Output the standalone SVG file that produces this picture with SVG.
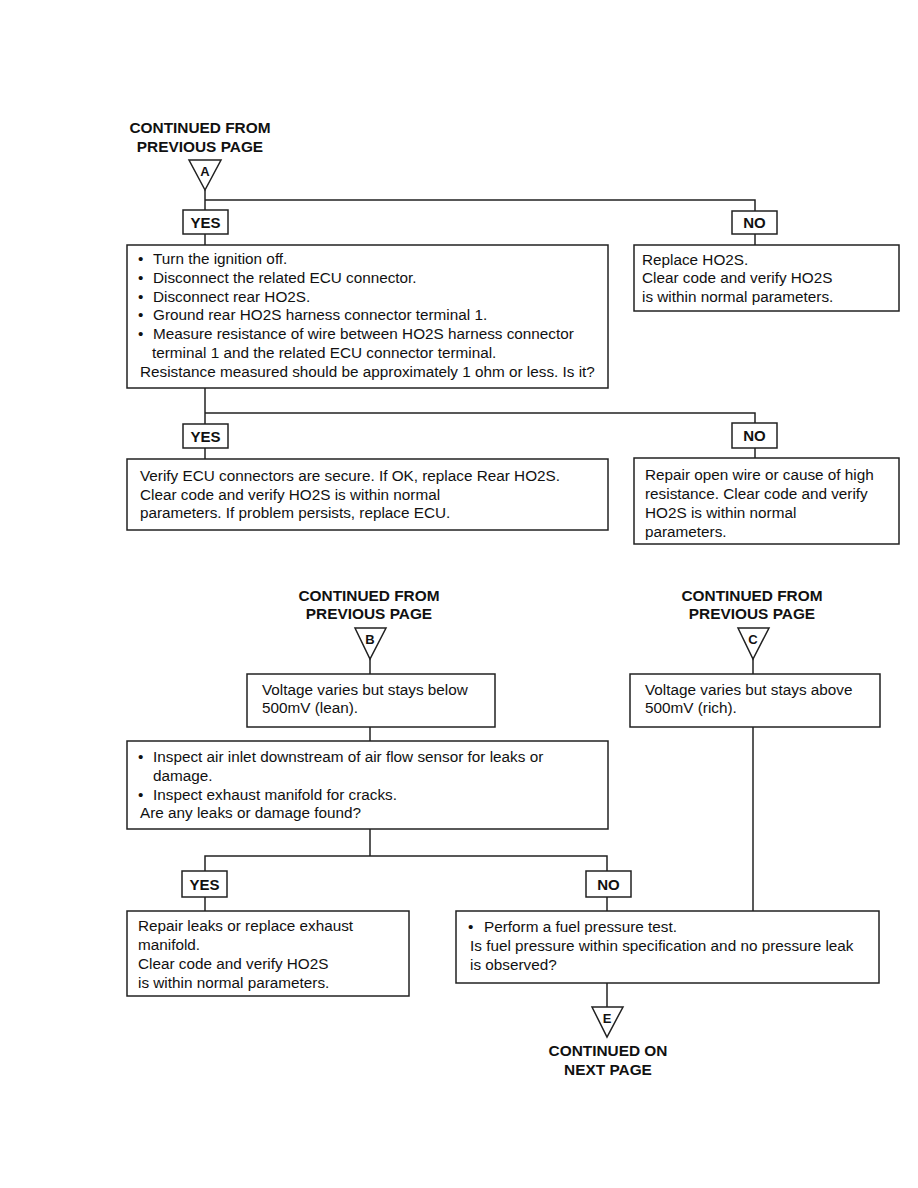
<svg xmlns="http://www.w3.org/2000/svg" width="918" height="1188" viewBox="0 0 918 1188">
<style>
.bg{fill:#ffffff}
.box{fill:#ffffff;stroke:#222;stroke-width:1.5}
.tri{fill:#ffffff;stroke:#222;stroke-width:1.5;stroke-linejoin:miter}
.ln{fill:none;stroke:#222;stroke-width:1.5}
.t{font-family:"Liberation Sans",Arial,sans-serif;font-size:15.3px;fill:#111}
.b{font-family:"Liberation Sans",Arial,sans-serif;font-size:15.4px;font-weight:bold;fill:#111}
.lbl{font-family:"Liberation Sans",Arial,sans-serif;font-size:15px;font-weight:bold;fill:#111;text-anchor:middle}
.tl{font-family:"Liberation Sans",Arial,sans-serif;font-size:13px;font-weight:bold;fill:#111;text-anchor:middle}
.c{text-anchor:middle}
</style>
<rect class="bg" x="0" y="0" width="918" height="1188"/>

<g id="connectors">
  <!-- top section -->
  <polyline class="ln" points="205,190 205,210"/>
  <polyline class="ln" points="205,200 755,200 755,211"/>
  <polyline class="ln" points="205,234 205,245"/>
  <polyline class="ln" points="755,234 755,245"/>
  <polyline class="ln" points="205,388 205,424"/>
  <polyline class="ln" points="205,413 755,413 755,423"/>
  <polyline class="ln" points="205,448 205,459"/>
  <polyline class="ln" points="755,448 755,458"/>
  <!-- bottom section -->
  <polyline class="ln" points="370,659 370,674"/>
  <polyline class="ln" points="370,727 370,741"/>
  <polyline class="ln" points="370,829 370,856"/>
  <polyline class="ln" points="205,871 205,856 607,856 607,871"/>
  <polyline class="ln" points="205,897 205,911"/>
  <polyline class="ln" points="607,897 607,911"/>
  <polyline class="ln" points="753,659 753,674"/>
  <polyline class="ln" points="753,727 753,911"/>
  <polyline class="ln" points="607,983 607,1007"/>
</g>

<g id="startA">
  <text class="b c" x="200" y="133">CONTINUED FROM</text>
  <text class="b c" x="200" y="152">PREVIOUS PAGE</text>
  <polygon class="tri" points="189,160 221,160 205,190"/>
  <text class="tl" x="205" y="176">A</text>
</g>

<g id="yes1"><rect class="box" x="183" y="210" width="45" height="24"/><text class="lbl" x="205.5" y="228">YES</text></g>
<g id="no1"><rect class="box" x="732" y="211" width="45" height="23"/><text class="lbl" x="754.5" y="228">NO</text></g>

<g id="check1">
  <rect class="box" x="127" y="245" width="481" height="143"/>
  <text class="t" x="138" y="264">•</text><text class="t" x="153" y="264">Turn the ignition off.</text>
  <text class="t" x="138" y="283">•</text><text class="t" x="153" y="283">Disconnect the related ECU connector.</text>
  <text class="t" x="138" y="302">•</text><text class="t" x="153" y="302">Disconnect rear HO2S.</text>
  <text class="t" x="138" y="320">•</text><text class="t" x="153" y="320">Ground rear HO2S harness connector terminal 1.</text>
  <text class="t" x="138" y="339">•</text><text class="t" x="153" y="339">Measure resistance of wire between HO2S harness connector</text>
  <text class="t" x="152" y="358">terminal 1 and the related ECU connector terminal.</text>
  <text class="t" x="140" y="377">Resistance measured should be approximately 1 ohm or less. Is it?</text>
</g>

<g id="replace1">
  <rect class="box" x="634" y="245" width="265" height="66"/>
  <text class="t" x="642" y="265">Replace HO2S.</text>
  <text class="t" x="642" y="283">Clear code and verify HO2S</text>
  <text class="t" x="642" y="302">is within normal parameters.</text>
</g>

<g id="yes2"><rect class="box" x="183" y="424" width="45" height="24"/><text class="lbl" x="205.5" y="442">YES</text></g>
<g id="no2"><rect class="box" x="732" y="423" width="45" height="25"/><text class="lbl" x="754.5" y="441">NO</text></g>

<g id="verify">
  <rect class="box" x="127" y="459" width="481" height="71"/>
  <text class="t" x="140" y="481">Verify ECU connectors are secure. If OK, replace Rear HO2S.</text>
  <text class="t" x="140" y="500">Clear code and verify HO2S is within normal</text>
  <text class="t" x="140" y="518">parameters. If problem persists, replace ECU.</text>
</g>

<g id="repairOpen">
  <rect class="box" x="634" y="458" width="265" height="86"/>
  <text class="t" x="645" y="480">Repair open wire or cause of high</text>
  <text class="t" x="645" y="499">resistance. Clear code and verify</text>
  <text class="t" x="645" y="518">HO2S is within normal</text>
  <text class="t" x="645" y="537">parameters.</text>
</g>

<g id="startB">
  <text class="b c" x="369" y="601">CONTINUED FROM</text>
  <text class="b c" x="369" y="619">PREVIOUS PAGE</text>
  <polygon class="tri" points="355,628 386,628 370,659"/>
  <text class="tl" x="370" y="644">B</text>
</g>

<g id="startC">
  <text class="b c" x="752" y="601">CONTINUED FROM</text>
  <text class="b c" x="752" y="619">PREVIOUS PAGE</text>
  <polygon class="tri" points="738,628 769,628 753,659"/>
  <text class="tl" x="753" y="644">C</text>
</g>

<g id="lean">
  <rect class="box" x="247" y="674" width="248" height="53"/>
  <text class="t" x="262" y="695">Voltage varies but stays below</text>
  <text class="t" x="262" y="713">500mV (lean).</text>
</g>

<g id="rich">
  <rect class="box" x="630" y="674" width="250" height="53"/>
  <text class="t" x="645" y="695">Voltage varies but stays above</text>
  <text class="t" x="645" y="713">500mV (rich).</text>
</g>

<g id="inspect">
  <rect class="box" x="127" y="741" width="481" height="88"/>
  <text class="t" x="138" y="762">•</text><text class="t" x="153" y="762">Inspect air inlet downstream of air flow sensor for leaks or</text>
  <text class="t" x="153" y="781">damage.</text>
  <text class="t" x="138" y="800">•</text><text class="t" x="153" y="800">Inspect exhaust manifold for cracks.</text>
  <text class="t" x="140" y="818">Are any leaks or damage found?</text>
</g>

<g id="yes3"><rect class="box" x="182" y="871" width="45" height="26"/><text class="lbl" x="204.5" y="890">YES</text></g>
<g id="no3"><rect class="box" x="586" y="871" width="45" height="26"/><text class="lbl" x="608.5" y="890">NO</text></g>

<g id="repairLeaks">
  <rect class="box" x="127" y="911" width="282" height="85"/>
  <text class="t" x="138" y="931">Repair leaks or replace exhaust</text>
  <text class="t" x="138" y="950">manifold.</text>
  <text class="t" x="138" y="969">Clear code and verify HO2S</text>
  <text class="t" x="138" y="988">is within normal parameters.</text>
</g>

<g id="fuel">
  <rect class="box" x="456" y="911" width="423" height="72"/>
  <text class="t" x="468" y="932">•</text><text class="t" x="484" y="932">Perform a fuel pressure test.</text>
  <text class="t" x="470" y="951">Is fuel pressure within specification and no pressure leak</text>
  <text class="t" x="470" y="970">is observed?</text>
</g>

<g id="endE">
  <polygon class="tri" points="592,1007 623,1007 607,1037"/>
  <text class="tl" x="607" y="1023">E</text>
  <text class="b c" x="608" y="1056">CONTINUED ON</text>
  <text class="b c" x="608" y="1075">NEXT PAGE</text>
</g>
</svg>
